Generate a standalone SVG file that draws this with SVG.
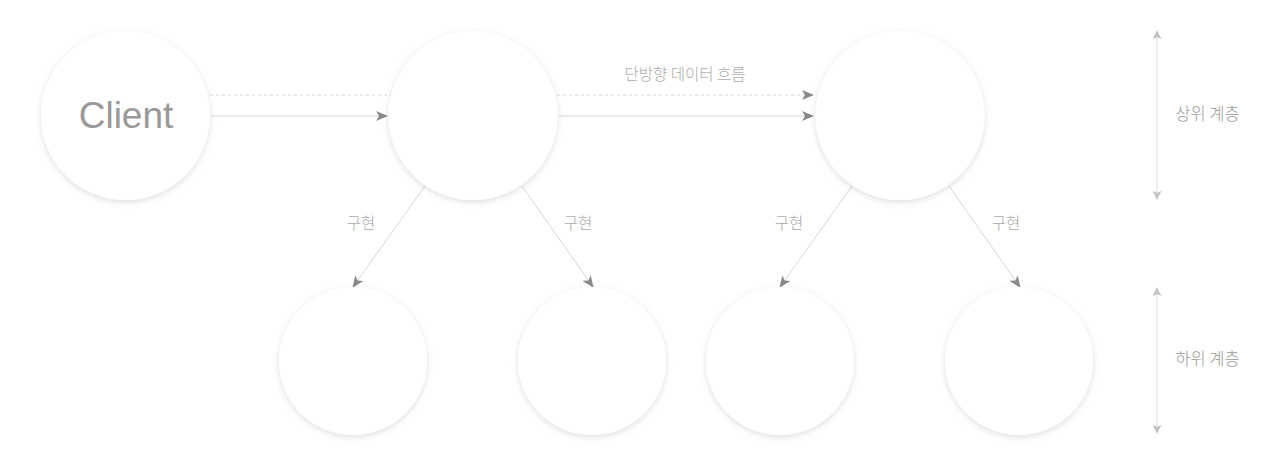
<svg xmlns="http://www.w3.org/2000/svg" width="1280" height="466" viewBox="0 0 1280 466">
<style>
.node{fill:#ffffff;filter:url(#sh)}
.lbl{font-family:"Noto Sans CJK KR","Noto Sans",sans-serif;font-size:15.5px;font-weight:300;fill:#aaaaaa;text-anchor:middle}
.side{font-family:"Noto Sans CJK KR","Noto Sans",sans-serif;font-size:16.5px;font-weight:300;fill:#999999;text-anchor:middle}
.ln{stroke:#d6d6d6;stroke-width:1;fill:none}
.dash{stroke:#d6d6d6;stroke-width:1;fill:none;stroke-dasharray:3 3}
.ax{stroke:#dddddd;stroke-width:1;fill:none}
</style>
<defs>
<filter id="sh" x="-20%" y="-20%" width="140%" height="140%">
<feDropShadow dx="0" dy="2" stdDeviation="3" flood-color="#000" flood-opacity="0.13"/>
</filter>
<marker id="ah" viewBox="0 0 12 10" refX="11" refY="5" markerWidth="12" markerHeight="10" markerUnits="userSpaceOnUse" orient="auto">
<path d="M0,0 L12,5 L0,10 L3,5 Z" fill="#8a8a8a"/>
</marker>
<marker id="ahl" viewBox="0 0 10 10" refX="9" refY="5" markerWidth="9" markerHeight="9" markerUnits="userSpaceOnUse" orient="auto-start-reverse">
<path d="M0,0 L10,5 L0,10 L2,5 Z" fill="#c4c4c4"/>
</marker>
</defs>
<rect width="1280" height="466" fill="#ffffff"/>
<g id="connectors">
<line class="dash" x1="210" y1="95" x2="392" y2="95"/>
<line class="ln" x1="211" y1="116" x2="387" y2="116" marker-end="url(#ah)"/>
<line class="dash" x1="557" y1="95" x2="813" y2="95" marker-end="url(#ah)"/>
<line class="ln" x1="559" y1="116" x2="813" y2="116" marker-end="url(#ah)"/>
<line class="ln" x1="425" y1="186" x2="353" y2="287" marker-end="url(#ah)"/>
<line class="ln" x1="522" y1="186" x2="593" y2="287" marker-end="url(#ah)"/>
<line class="ln" x1="852" y1="186" x2="780" y2="287" marker-end="url(#ah)"/>
<line class="ln" x1="949" y1="186" x2="1020" y2="287" marker-end="url(#ah)"/>
<line class="ax" x1="1157" y1="31" x2="1157" y2="199" marker-start="url(#ahl)" marker-end="url(#ahl)"/>
<line class="ax" x1="1157" y1="288" x2="1157" y2="433" marker-start="url(#ahl)" marker-end="url(#ahl)"/>
<text class="lbl" x="685" y="80">단방향 데이터 흐름</text>
<text class="lbl" x="361" y="229">구현</text>
<text class="lbl" x="578" y="229">구현</text>
<text class="lbl" x="789" y="229">구현</text>
<text class="lbl" x="1006" y="229">구현</text>
<text class="side" x="1207.5" y="120">상위 계층</text>
<text class="side" x="1207.5" y="365">하위 계층</text>
</g>
<g id="client"><circle class="node" cx="125.5" cy="115.5" r="84.5"/><text x="126" y="128" font-family="'Liberation Sans','Noto Sans',sans-serif" font-size="37" fill="#999999" text-anchor="middle">Client</text></g>
<g id="top1"><circle class="node" cx="473" cy="115.5" r="84.5"/></g>
<g id="top2"><circle class="node" cx="900" cy="115.5" r="84.5"/></g>
<g id="bottom1"><circle class="node" cx="353" cy="361" r="74"/></g>
<g id="bottom2"><circle class="node" cx="592" cy="361" r="74"/></g>
<g id="bottom3"><circle class="node" cx="780" cy="361" r="74"/></g>
<g id="bottom4"><circle class="node" cx="1019" cy="361" r="74"/></g>
</svg>
